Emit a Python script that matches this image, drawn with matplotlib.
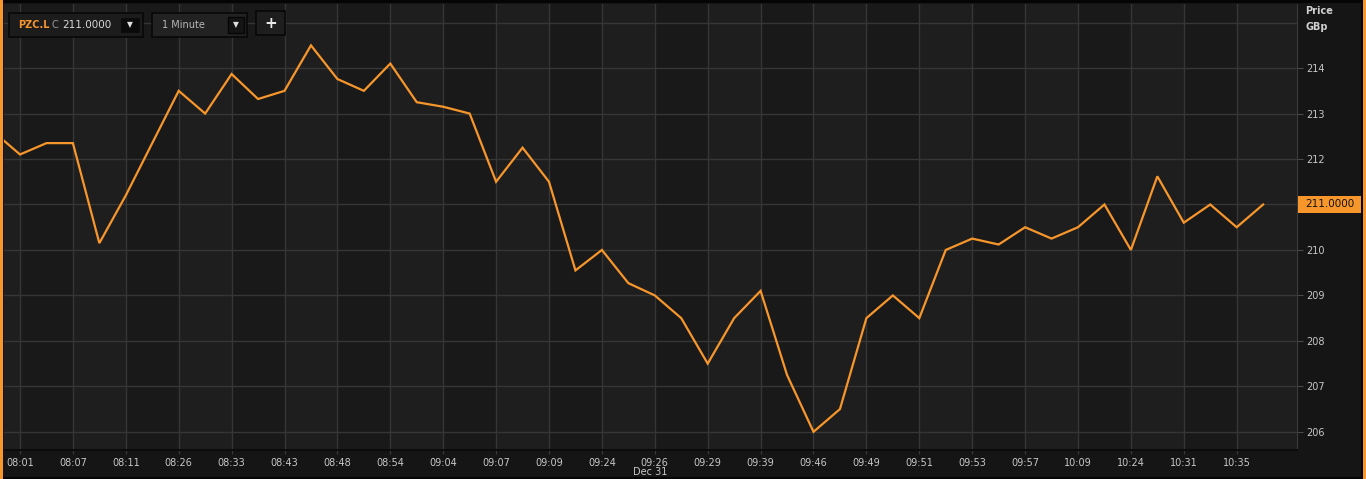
import matplotlib
matplotlib.use("Agg")
import matplotlib.pyplot as plt
from matplotlib.patches import Rectangle
from matplotlib.transforms import blended_transform_factory
import numpy as np

# ---- data ----
prices = [212.6, 212.1, 212.35, 212.35, 210.15, 211.2, 212.35, 213.5, 213.0, 213.87,
          213.32, 213.5, 214.5, 213.76, 213.5, 214.1, 213.25, 213.15, 213.0, 211.5,
          212.25, 211.5, 209.55, 210.0, 209.27, 209.0, 208.5, 207.5, 208.5, 209.1,
          207.25, 206.0, 206.5, 208.5, 209.0, 208.5, 210.0, 210.25, 210.12, 210.5,
          210.25, 210.5, 211.0, 210.0, 211.62, 210.6, 211.0, 210.5, 211.0]
tick_labels = ["08:01", "08:07", "08:11", "08:26", "08:33", "08:43", "08:48", "08:54",
               "09:04", "09:07", "09:09", "09:24", "09:26", "09:29", "09:39", "09:46",
               "09:49", "09:51", "09:53", "09:57", "10:09", "10:24", "10:31", "10:35"]
y_ticks = [206, 207, 208, 209, 210, 211, 212, 213, 214, 215]
symbol = "PZC.L"
interval = "1 Minute"
date_label = "Dec 31"

W, H = 1366, 479
fig = plt.figure(figsize=(W / 100, H / 100), dpi=100)
fig.patch.set_facecolor("#151515")

def fx(px):
    return px / W

def fy(py):
    return 1 - py / H

# plot axes
L, R, T, B = 4, 1297, 4, 450
ax = fig.add_axes([fx(L), fy(B), fx(R - L), (B - T) / H])
ax.set_facecolor("#1e1e1e")

x = np.arange(-1, len(prices) - 1)
tick_pos = np.arange(0, 2 * len(tick_labels), 2)

ax.set_xlim(-0.605, 48.28)
ax.set_ylim(205.6, 215.41)

# alternating column bands
edges = list(tick_pos) + [tick_pos[-1] + 2]
for k in range(len(edges) - 1):
    if k % 2 == 0:
        ax.axvspan(edges[k], edges[k + 1], color="#191919", lw=0, zorder=0)

for t in tick_pos:
    ax.axvline(t, color="#363636", lw=1, zorder=1)
for yv in y_ticks:
    ax.axhline(yv, color="#363636", lw=1, zorder=1)

ax.plot(x, prices, color="#f7962b", lw=1.6, zorder=3, solid_joinstyle="miter")

last = prices[-1]

ax.set_xticks(tick_pos)
ax.set_xticklabels(tick_labels)
ax.tick_params(axis="x", colors="#3a3a3a", labelcolor="#c8c8c8", labelsize=7,
               length=3, pad=3, direction="out")
ax.yaxis.tick_right()
shown = [v for v in y_ticks[:-1]]
ax.set_yticks(shown)
ax.set_yticklabels(["" if v == last else str(v) for v in shown])
ax.tick_params(axis="y", colors="#4a4a4a", labelcolor="#c8c8c8", labelsize=7,
               length=4, pad=3)
for sp in ["top", "left"]:
    ax.spines[sp].set_visible(False)
ax.spines["right"].set_color("#3a3a3a")
ax.spines["bottom"].set_color("#0c0c0c")
ax.spines["bottom"].set_linewidth(1.5)

# last price tag (figure x, data y)
tr = blended_transform_factory(fig.transFigure, ax.transData)
tag_h = 17 / 45.5
fig.add_artist(Rectangle((fx(1298), last - tag_h / 2), 63 / W, tag_h, transform=tr,
                         fc="#f7962b", ec="none", zorder=8))
fig.text(fx(1329.5), 0, f"{last:.4f}", transform=tr, fontsize=7.5, color="#111111",
         ha="center", va="center", zorder=9).set_y(last)

# axis header
fig.text(fx(1305), fy(11), "Price", color="#d0d0d0", fontsize=7, ha="left", va="center",
         fontweight="bold")
fig.text(fx(1305), fy(27), "GBp", color="#d0d0d0", fontsize=7, ha="left", va="center",
         fontweight="bold")
fig.text(fx(650), fy(472), date_label, color="#c8c8c8", fontsize=7, ha="center", va="center")

# frame
fig.add_artist(Rectangle((0, fy(3)), 1, 3 / H, transform=fig.transFigure, fc="#050505", ec="none"))
fig.add_artist(Rectangle((0, 0), 1, 2 / H, transform=fig.transFigure, fc="#050505", ec="none"))
fig.add_artist(Rectangle((0, 0), 2.5 / W, 1, transform=fig.transFigure, fc="#f7962b", ec="none"))
fig.add_artist(Rectangle((fx(1361), 0), 2 / W, 1, transform=fig.transFigure, fc="#050505", ec="none"))
fig.add_artist(Rectangle((fx(1363), 0), 3 / W, 1, transform=fig.transFigure, fc="#f7962b", ec="none"))

# toolbar widgets
def box(x0, y0, x1, y1, fc, ec, lw=1, z=5):
    fig.add_artist(Rectangle((fx(x0), fy(y1)), (x1 - x0) / W, (y1 - y0) / H,
                             transform=fig.transFigure, fc=fc, ec=ec, lw=lw, zorder=z))

box(9, 13, 143, 37, "#1c1c1c", "#080808", 1.2)
box(121, 18, 139, 32, "#0a0a0a", "#0a0a0a", 0.5, 6)
fig.text(fx(130), fy(25), "▼", color="#e0e0e0", fontsize=5.5, ha="center", va="center", zorder=7)
fig.text(fx(18), fy(25), symbol, color="#f7962b", fontsize=7, fontweight="bold",
         ha="left", va="center", zorder=7)
fig.text(fx(52), fy(25), "C", color="#9a9a9a", fontsize=7, ha="left", va="center", zorder=7)
fig.text(fx(62), fy(25), f"{last:.4f}", color="#d8d8d8", fontsize=7.5, ha="left", va="center", zorder=7)

box(152, 13, 247, 37, "#222222", "#080808", 1.2)
box(228, 17, 244, 33, "#141414", "#050505", 1, 6)
fig.text(fx(236), fy(25), "▼", color="#e0e0e0", fontsize=5.5, ha="center", va="center", zorder=7)
fig.text(fx(162), fy(25), interval, color="#b8b8b8", fontsize=7, ha="left", va="center", zorder=7)

box(256, 11, 285, 35, "#1e1e1e", "#080808", 1.2)
fig.text(fx(270.5), fy(23), "+", color="#e8e8e8", fontsize=11, fontweight="bold",
         ha="center", va="center", zorder=7)

fig.savefig("out.png", dpi=100, facecolor=fig.get_facecolor())
